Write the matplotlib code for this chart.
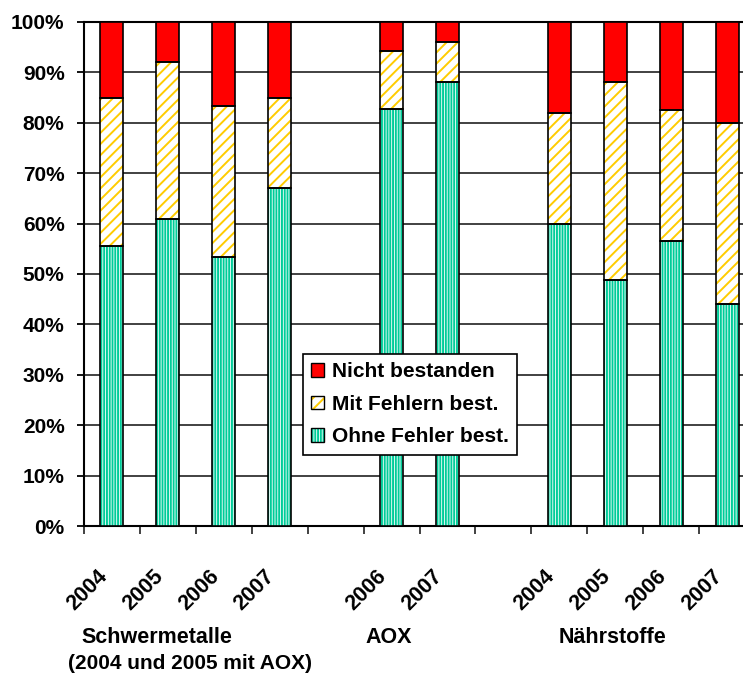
import matplotlib
matplotlib.use("Agg")
import matplotlib.pyplot as plt
import numpy as np
from matplotlib.patches import Patch
from matplotlib.legend_handler import HandlerTuple
from matplotlib.transforms import ScaledTranslation

plt.rcParams['font.family'] = ['Liberation Sans', 'DejaVu Sans']
plt.rcParams['font.weight'] = 'bold'
plt.rcParams['hatch.linewidth'] = 1.4

# ---- data ----
group_names = ["Schwermetalle", "AOX", "Nährstoffe"]
group_note = "(2004 und 2005 mit AOX)"
group_years = [["2004", "2005", "2006", "2007"],
               ["2006", "2007"],
               ["2004", "2005", "2006", "2007"]]
ohne = [55.5, 61.0, 53.3, 67.1, 82.8, 88.0, 60.0, 48.9, 56.6, 44.0]
mit = [29.4, 31.1, 30.1, 17.8, 11.4, 8.0, 21.9, 39.1, 26.0, 36.0]
nicht = [15.1, 7.9, 16.6, 15.1, 5.8, 4.0, 18.1, 12.0, 17.4, 20.0]
series_names = ["Nicht bestanden", "Mit Fehlern best.", "Ohne Fehler best."]
yticks = [0, 10, 20, 30, 40, 50, 60, 70, 80, 90, 100]

# ---- layout ----
pos = []
labels = []
start = 0
for yrs in group_years:
    for j, y in enumerate(yrs):
        pos.append(start + j + 0.5)
        labels.append(y)
    start += len(yrs) + 1
pos = np.array(pos)
nslots = start - 1

W, H = 743, 675
fig = plt.figure(figsize=(W / 100, H / 100), dpi=100)
ax = fig.add_axes([84 / W, 149 / H, (755 - 84) / W, (526 - 22) / H])

ohne = np.array(ohne); mit = np.array(mit); nicht = np.array(nicht)
bw = 0.41
GREEN = '#00CC99'
YELLOW = '#FFCC00'
RED = '#FF0000'
HATCH_G = '|' * 6
HATCH_Y = '/' * 3

ax.bar(pos, ohne, bw, color='white', edgecolor=GREEN, hatch=HATCH_G, linewidth=0, zorder=3)
ax.bar(pos, mit, bw, bottom=ohne, color='white', edgecolor=YELLOW, hatch=HATCH_Y, linewidth=0, zorder=3)
ax.bar(pos, nicht, bw, bottom=ohne + mit, color=RED, linewidth=0, zorder=3)
for vals, bot in [(ohne, 0), (mit, ohne), (nicht, ohne + mit)]:
    ax.bar(pos, vals, bw, bottom=bot, fill=False, edgecolor='black', linewidth=1.2, zorder=4)

ax.set_xlim(0, nslots)
ax.set_ylim(0, 100)
ax.set_yticks(yticks)
ax.set_yticklabels([f"{v}%" for v in yticks], fontsize=15, fontweight='bold')
ax.yaxis.grid(True, color='#333333', linewidth=1.3, zorder=0)
ax.set_axisbelow(True)

ax.set_xticks(np.arange(0, nslots + 1))
ax.set_xticklabels([])
ax.tick_params(axis='x', which='major', direction='out', length=6, width=1.3, color='#333333')
ax.tick_params(axis='y', direction='out', length=5, width=1.3, pad=9)

# rotated year labels
xt = ax.get_xaxis_transform()
off = ScaledTranslation(-8 / 100, -47 / 100, fig.dpi_scale_trans)
for p, lab in zip(pos, labels):
    ax.text(p, 0, lab, transform=xt + off, rotation=45, rotation_mode='anchor',
            ha='right', va='center', fontsize=15.5, fontweight='bold', clip_on=False)

for s in ['left', 'bottom', 'top', 'right']:
    ax.spines[s].set_linewidth(1.5)
    ax.spines[s].set_color('black')

# group labels
gl_x = [1.3, 5.45, 9.46]
for x, name in zip(gl_x, group_names):
    ax.text(x, -0.222, name, transform=xt, ha='center', va='center',
            fontsize=15.5, fontweight='bold')
ax.text(1.9, -0.272, group_note, transform=xt, ha='center', va='center',
        fontsize=15, fontweight='bold')

# legend
h_red = (Patch(facecolor=RED, edgecolor='black', linewidth=1.0),)
h_yel = (Patch(facecolor='white', edgecolor=YELLOW, hatch=HATCH_Y, linewidth=0),
         Patch(fill=False, edgecolor='black', linewidth=1.0))
h_grn = (Patch(facecolor='white', edgecolor=GREEN, hatch=HATCH_G, linewidth=0),
         Patch(fill=False, edgecolor='black', linewidth=1.0))
leg = ax.legend([h_red, h_yel, h_grn], series_names,
                handler_map={tuple: HandlerTuple(ndivide=1, pad=0)},
                loc='upper left', bbox_to_anchor=(303 / W, 1 - 354 / H),
                bbox_transform=fig.transFigure, borderaxespad=0,
                prop={'size': 15, 'weight': 'bold'},
                handlelength=0.62, handleheight=0.62, handletextpad=0.35,
                labelspacing=0.65, borderpad=0.4, fancybox=False,
                framealpha=1, edgecolor='black')
leg.get_frame().set_linewidth(1.2)
leg.set_zorder(10)

fig.savefig("out.png", dpi=100)
